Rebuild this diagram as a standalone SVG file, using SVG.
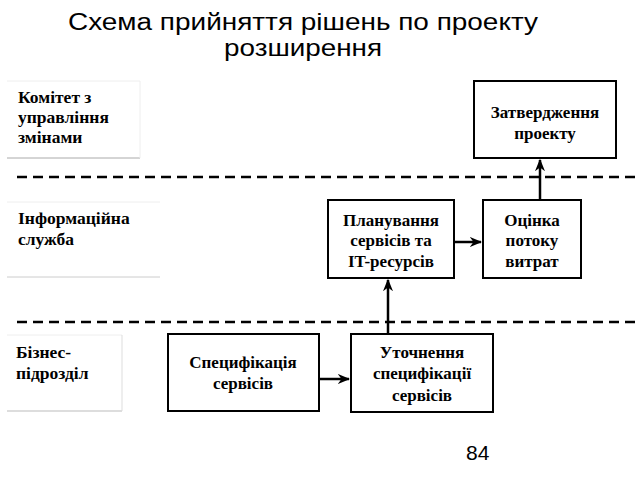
<svg xmlns="http://www.w3.org/2000/svg" width="640" height="480" viewBox="0 0 640 480">
<defs>
<marker id="arr" viewBox="0 0 10 10" refX="9" refY="5" markerWidth="5" markerHeight="5" orient="auto" markerUnits="strokeWidth">
<path d="M0,1 L10,5 L0,9 L3,5 Z" fill="#000"/>
</marker>
<style>
.title{font-family:"Liberation Sans",Arial,sans-serif;font-size:23px;fill:#000;text-anchor:middle}
.node rect{fill:#fff;stroke:#000;stroke-width:2}
.nt{font-family:"Liberation Serif","Times New Roman",serif;font-weight:bold;font-size:17px;fill:#000;text-anchor:middle}
.lt{font-family:"Liberation Serif","Times New Roman",serif;font-weight:bold;font-size:17.5px;fill:#000}
.lane line{stroke-width:1}
.dash{stroke:#000;stroke-width:2.5;stroke-dasharray:10 6}
.conn line{stroke:#000;stroke-width:2.5;marker-end:url(#arr)}
</style>
</defs>
<rect width="640" height="480" fill="#fff"/>
<text class="title" x="303" y="30" textLength="470" lengthAdjust="spacingAndGlyphs">Схема прийняття рішень по проекту</text>
<text class="title" x="303" y="56" textLength="158" lengthAdjust="spacingAndGlyphs">розширення</text>

<g id="lane-committee" class="lane">
<line x1="7" y1="81" x2="140" y2="81" stroke="#eee"/>
<line x1="7" y1="158" x2="140" y2="158" stroke="#aaa"/>
<line x1="140" y1="81" x2="140" y2="158" stroke="#eee"/>
<text class="lt" x="18" y="103">Комітет з</text>
<text class="lt" x="18" y="123">управління</text>
<text class="lt" x="18" y="143">змінами</text>
</g>
<g id="lane-it" class="lane">
<line x1="7" y1="202" x2="160" y2="202" stroke="#eee"/>
<line x1="7" y1="277" x2="160" y2="277" stroke="#ccc"/>
<text class="lt" x="18" y="224">Інформаційна</text>
<text class="lt" x="18" y="245">служба</text>
</g>
<g id="lane-business" class="lane">
<line x1="7" y1="335" x2="122" y2="335" stroke="#eee"/>
<line x1="7" y1="411" x2="122" y2="411" stroke="#bbb"/>
<line x1="122" y1="335" x2="122" y2="411" stroke="#ddd"/>
<text class="lt" x="16" y="358">Бізнес-</text>
<text class="lt" x="16" y="379">підрозділ</text>
</g>

<line class="dash" x1="17" y1="177" x2="640" y2="177"/>
<line class="dash" x1="17" y1="322" x2="640" y2="322"/>

<g id="connectors" class="conn">
<line x1="319" y1="379" x2="349" y2="379"/>
<line x1="388" y1="334" x2="388" y2="280"/>
<line x1="454" y1="242" x2="481" y2="242"/>
<line x1="540" y1="200" x2="540" y2="160"/>
</g>

<g id="n-approve" class="node">
<rect x="474" y="81" width="142" height="77"/>
<text class="nt" x="545" y="118">Затвердження</text>
<text class="nt" x="545" y="139">проекту</text>
</g>
<g id="n-plan" class="node">
<rect x="328" y="200" width="126" height="78"/>
<text class="nt" x="391" y="226">Планування</text>
<text class="nt" x="391" y="246">сервісів та</text>
<text class="nt" x="391" y="267">IT-ресурсів</text>
</g>
<g id="n-cost" class="node">
<rect x="483" y="200" width="98" height="78"/>
<text class="nt" x="532" y="226">Оцінка</text>
<text class="nt" x="532" y="246">потоку</text>
<text class="nt" x="532" y="267">витрат</text>
</g>
<g id="n-spec" class="node">
<rect x="168" y="334" width="151" height="77"/>
<text class="nt" x="243" y="368">Специфікація</text>
<text class="nt" x="243" y="389">сервісів</text>
</g>
<g id="n-refine" class="node">
<rect x="351" y="334" width="142" height="78"/>
<text class="nt" x="422" y="358">Уточнення</text>
<text class="nt" x="422" y="379">специфікації</text>
<text class="nt" x="422" y="401">сервісів</text>
</g>

<text x="466" y="460" font-family="'Liberation Sans',Arial,sans-serif" font-size="21" fill="#000">84</text>
</svg>
